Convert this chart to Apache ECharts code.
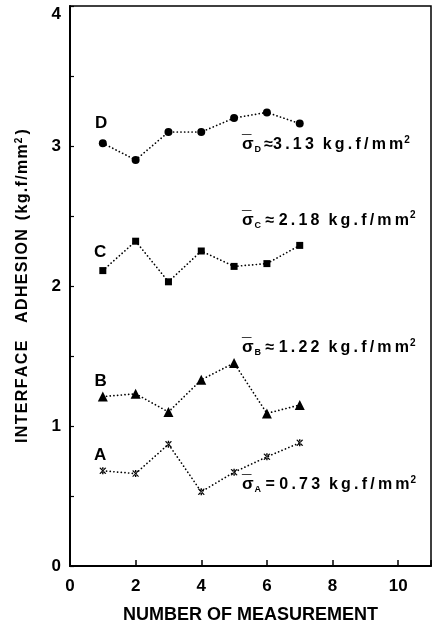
<!DOCTYPE html>
<html>
<head>
<meta charset="utf-8">
<script src="https://cdn.jsdelivr.net/npm/echarts@6/dist/echarts.min.js"></script>
<style>
html,body{margin:0;padding:0;background:#fff;}
#chart{width:435px;height:625px;}
</style>
</head>
<body>
<div id="chart"></div>
<script>
// Measurement numbers
var measurements = [1, 2, 3, 4, 5, 6, 7];
// Interface adhesion values (kg.f/mm^2)
var seriesA = [0.68, 0.66, 0.87, 0.53, 0.67, 0.78, 0.88];
var seriesB = [1.21, 1.23, 1.10, 1.33, 1.45, 1.09, 1.15];
var seriesC = [2.11, 2.32, 2.03, 2.25, 2.14, 2.16, 2.29];
var seriesD = [3.02, 2.90, 3.10, 3.10, 3.20, 3.24, 3.16];
var seriesNames = ['A', 'B', 'C', 'D'];
var meanValues = ['0.73', '1.22', '2.18', '3.13'];
var meanSigns = ['=', '≈', '≈', '≈'];
var xTicks = [0, 2, 4, 6, 8, 10];
var yTicks = [0, 1, 2, 3, 4];

var FONT = '"Liberation Sans", Arial, Helvetica, sans-serif';
var THIN = '\u2009';
var HAIR = '\u200A';
function spaced(s, sp) { return s.split('').join(sp); }

var asterisk = 'path://M-0.6,-5H0.6V5H-0.6Z M1.98,4.63L3.02,4.03L-1.98,-4.63L-3.02,-4.03Z M-3.02,4.03L-1.98,4.63L3.02,-4.03L1.98,-4.63Z';

function pairs(vals) {
  return measurements.map(function (m, i) { return [m, vals[i]]; });
}

function lineSeries(name, vals, symbol, size) {
  return {
    name: name,
    type: 'line',
    data: pairs(vals),
    symbol: symbol,
    symbolSize: size,
    itemStyle: { color: '#000', opacity: 1 },
    lineStyle: { color: '#000', width: 1.7, type: [0.1, 3.6], cap: 'round' },
    animation: false,
    z: 3
  };
}

// letter labels placed near the first point of each curve
var letterPos = { A: [0.92, 0.79], B: [0.93, 1.32], C: [0.92, 2.24], D: [0.95, 3.16] };
// mean annotations anchor (left edge of text)
var meanPos = { A: [5.24, 0.58], B: [5.24, 1.56], C: [5.24, 2.47], D: [5.24, 3.01] };

var letterData = seriesNames.map(function (n) {
  return { value: letterPos[n], label: { formatter: n } };
});
var meanData = seriesNames.map(function (n, i) {
  var body = (n === 'D' ? THIN : ' ') + meanSigns[i] + (n === 'D' ? '' : ' ') +
    spaced(meanValues[i], THIN) + '  ' + spaced('kg.f/mm', THIN);
  return {
    value: meanPos[n],
    label: { formatter: '{s|σ}{sub|' + n + '}{t|' + body + '}{sup|2}' }
  };
});
var barData = seriesNames.map(function (n) {
  return { value: meanPos[n], label: { formatter: '{o|¯}' } };
});

var plainText = { color: '#000', textBorderWidth: 0, textShadowBlur: 0, opacity: 1 };
function txt(size) {
  return { fontFamily: FONT, fontWeight: 'bold', fontSize: size, color: '#000', textBorderWidth: 0 };
}

var chart = echarts.init(document.getElementById('chart'), null, { renderer: 'canvas' });
chart.setOption({
  backgroundColor: '#fff',
  animation: false,
  grid: { left: 70, right: 4, top: 6, bottom: 59, show: true, borderColor: '#000', borderWidth: 1.5, containLabel: false, outerBoundsMode: 'none' },
  xAxis: {
    type: 'value', min: 0, max: 11, interval: 2,
    name: 'NUMBER OF MEASUREMENT', nameLocation: 'middle', nameGap: 40,
    nameTextStyle: { fontFamily: FONT, fontWeight: 'bold', fontSize: 18, color: '#000' },
    axisLine: { show: true, lineStyle: { color: '#000', width: 2 } },
    axisTick: { show: true, inside: true, length: 6, lineStyle: { color: '#000', width: 1.5 } },
    axisLabel: {
      margin: 12, fontFamily: FONT, fontWeight: 'bold', fontSize: 17, color: '#000',
      formatter: function (v) { return xTicks.indexOf(v) >= 0 ? String(v) : ''; }
    },
    splitLine: { show: false }
  },
  yAxis: {
    type: 'value', min: 0, max: 4, interval: 0.5,
    name: '{a|' + spaced('INTERFACE', HAIR) + '    ' + spaced('ADHESION', HAIR) + '  ' + spaced('(kg.f/mm', HAIR) + '}{s|2}{a|' + THIN + ')}',
    nameLocation: 'middle', nameGap: 38,
    nameTextStyle: {
      rich: {
        a: txt(16),
        s: { fontFamily: FONT, fontWeight: 'bold', fontSize: 10, color: '#000', verticalAlign: 'top', padding: [0, 0, 8, 1] }
      }
    },
    axisLine: { show: true, lineStyle: { color: '#000', width: 2 } },
    axisTick: { show: true, inside: true, length: 4, lineStyle: { color: '#000', width: 1.2 } },
    axisLabel: {
      margin: 9, fontFamily: FONT, fontWeight: 'bold', fontSize: 17, color: '#000',
      formatter: function (v) {
        if (yTicks.indexOf(v) < 0) return '';
        return v === yTicks[yTicks.length - 1] ? '{top|' + v + '}' : String(v);
      },
      rich: {
        top: { fontFamily: FONT, fontWeight: 'bold', fontSize: 17, color: '#000', padding: [16, 0, 0, 0] }
      }
    },
    splitLine: { show: false }
  },
  series: [
    lineSeries('A', seriesA, asterisk, 7),
    lineSeries('B', seriesB, 'triangle', 10),
    lineSeries('C', seriesC, 'rect', 7),
    lineSeries('D', seriesD, 'circle', 8),
    {
      type: 'scatter', data: letterData, symbolSize: 0, silent: true,
      itemStyle: { color: '#000', opacity: 1 },
      label: Object.assign({ show: true, position: 'inside', fontFamily: FONT, fontWeight: 'bold', fontSize: 17 }, plainText)
    },
    {
      type: 'scatter', data: meanData, symbolSize: 0, silent: true,
      itemStyle: { color: '#000', opacity: 1 },
      label: Object.assign({
        show: true, position: 'right', distance: 0,
        rich: {
          s: txt(17),
          sub: { fontFamily: FONT, fontWeight: 'bold', fontSize: 9, color: '#000', verticalAlign: 'bottom', padding: [9, 0, 0, 1] },
          t: txt(16),
          sup: { fontFamily: FONT, fontWeight: 'bold', fontSize: 10, color: '#000', verticalAlign: 'top', padding: [0, 0, 9, 1] }
        }
      }, plainText)
    },
    {
      type: 'scatter', data: barData, symbolSize: 0, silent: true,
      itemStyle: { color: '#000', opacity: 1 },
      label: Object.assign({
        show: true, position: 'right', distance: 0, offset: [0, -2],
        rich: { o: { fontFamily: FONT, fontWeight: 'bold', fontSize: 17, color: '#000' } }
      }, plainText)
    }
  ]
});
</script>
</body>
</html>
